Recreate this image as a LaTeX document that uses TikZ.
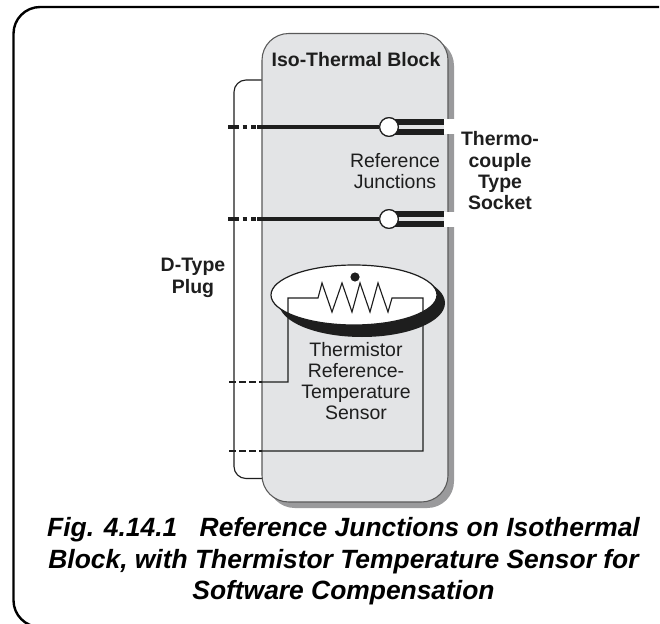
\documentclass[tikz,border=0pt]{standalone}
\usepackage{fontspec}
\setmainfont{Liberation Sans}
\definecolor{blockgray}{HTML}{E3E4E6}
\definecolor{shadowgray}{HTML}{9A9A9C}
\definecolor{inkc}{HTML}{1E1E1E}
\tikzset{
  x=0.75pt,y=-0.75pt,
  lab/.style={font=\fontsize{14.6pt}{15.75pt}\selectfont,align=center,text=inkc,inner sep=0pt},
  blab/.style={font=\fontsize{14.6pt}{16pt}\selectfont\bfseries,align=center,text=inkc,inner sep=0pt},
  capt/.style={font=\fontsize{19.8pt}{23.6pt}\selectfont\bfseries\itshape,align=center,text=black,inner sep=0pt},
  junc/.style={circle,draw=inkc,fill=white,line width=0.9pt,minimum size=14pt,inner sep=0pt},
  wire/.style={draw=inkc,line width=2.5pt},
  thinwire/.style={draw=inkc,line width=0.85pt},
}
\begin{document}
\begin{tikzpicture}
\useasboundingbox (0,0) rectangle (660,624);
\fill[white] (0,0) rectangle (660,624);
\begin{scope}
\clip (0,0) rectangle (660,624);
\draw[black,line width=1.8pt,rounded corners=20pt] (659,7) -- (13.5,7) -- (13.5,627) -- (60,627);
\end{scope}
% plug outline
\draw[thinwire,rounded corners=9pt] (263,80) -- (234,80) -- (234,478.5) -- (263,478.5);
% shadow + block
\fill[shadowgray,rounded corners=20pt] (268,39) rectangle (454,508);
\path[fill=blockgray,draw=black!65,line width=0.8pt,rounded corners=20pt] (262,33.5) rectangle (448,502);
\foreach \n/\y in {a/127,b/219}{
  \fill[white] (444,\y-7.5) rectangle (456,\y+7.5);
  \coordinate (\n L) at (228,\y);
  \coordinate (\n M) at (262,\y);
  \node[junc] (\n J) at (389,\y) {};
  \draw[wire,dash pattern=on 8pt off 3pt on 3.5pt off 3pt on 3.5pt off 1pt] (\n L) -- (\n M);
  \draw[wire] (\n M) -- (\n J);
  \fill[inkc] (\n J |- 0,\y-8) rectangle (444,\y-2);
  \fill[inkc] (\n J |- 0,\y+2) rectangle (444,\y+8);
  \node[junc] at (\n J) {};
}
% ellipse
\fill[inkc] (362,303) ellipse[x radius=83,y radius=34];
\path[draw=inkc,fill=white,line width=0.9pt] (354,295) ellipse[x radius=83,y radius=30];
\fill[inkc] (355,277) circle[radius=4.6];
% thermistor
\coordinate (pl) at (229,382);
\coordinate (pr) at (229,451);
\coordinate (ml) at (262,382);
\coordinate (mr) at (262,451);
\draw[thinwire,miter limit=10] (ml) -- (288,382) -- (288,298) -- (318,298) -- (322,283) -- (332,312) -- (342,283) -- (352,312) -- (360,283) -- (370,312) -- (378,283) -- (388,312) -- (392,298) -- (423,298) -- (423,451) -- (mr);
\draw[thinwire,dash pattern=on 5pt off 2.5pt on 5pt off 2.5pt] (pl) -- (ml);
\draw[thinwire,dash pattern=on 5pt off 2.5pt on 5pt off 2.5pt] (pr) -- (mr);
% labels
\node[blab] (iso) at (356,60) {Iso-Thermal Block};
\node[lab] (ref) at (395,171) {Reference\\Junctions};
\node[blab] (tc) at (500,171) {Thermo-\\couple\\Type\\Socket};
\node[blab] (dt) at (193,278) {D-Type\\Plug};
\node[lab] (th) at (356,381.5) {Thermistor\\Reference-\\Temperature\\Sensor};
\node[capt] (cp) at (343.5,561.5) {Fig. 4.14.1\hspace{0.85em}Reference Junctions on Isothermal\\Block, with Thermistor Temperature Sensor for\\Software Compensation};
\end{tikzpicture}
\end{document}
